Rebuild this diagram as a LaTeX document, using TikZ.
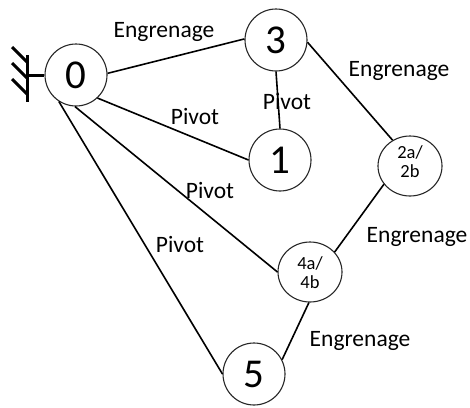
\documentclass[tikz,border=0pt]{standalone}
\usepackage{fontspec}
\setmainfont{Carlito}
\usetikzlibrary{shapes.geometric}
\tikzset{
  joint/.style={draw=black!85, line width=1.1pt, circle, minimum size=62pt, inner sep=0pt, font=\fontsize{41}{41}\selectfont},
  jointsmall/.style={draw=black!85, line width=1.1pt, ellipse, minimum width=64pt, minimum height=60pt, inner sep=0pt},
  smalltxt/.style={font=\fontsize{18.5}{19}\selectfont, align=center, inner sep=0pt},
  lbl/.style={font=\fontsize{23.5}{26}\selectfont, inner sep=0pt},
  link/.style={line width=1.6pt, black},
  groundline/.style={line width=3pt, black}
}
\begin{document}
\begin{tikzpicture}[x=1pt,y=-1pt]
\useasboundingbox (0,0) rectangle (470,407);
% joints
\node[joint] (n0) at (76,75) {0};
\node[joint] (n3) at (276,40) {3};
\node[joint] (n1) at (280,160) {1};
\node[jointsmall] (n2) at (410,166) {};
\node[smalltxt] (n2t) at (410,162) {2a/\\2b};
\node[jointsmall] (n4) at (310,272) {};
\node[smalltxt] (n4t) at (310,273) {4a/\\4b};
\node[joint] (n5) at (254,374) {5};
% ground
\coordinate (g1) at (27,55);
\coordinate (g2) at (27,102);
\coordinate (gm) at (27,75);
\coordinate (h1a) at (12,47); \coordinate (h1b) at (27,62);
\coordinate (h2a) at (12,63); \coordinate (h2b) at (27,78);
\coordinate (h3a) at (12,79); \coordinate (h3b) at (27,94);
\draw[groundline] (g1) -- (g2);
\draw[groundline] (gm) -- (n0.west);
\draw[groundline] (h1a) -- (h1b);
\draw[groundline] (h2a) -- (h2b);
\draw[groundline] (h3a) -- (h3b);
% links
\draw[link] (n0.3) -- (n3.178);
\draw[link] (n0.-47) -- (n1.180);
\draw[link] (n0.-92) -- (n4.180);
\draw[link] (n0.-123) -- (n5.180);
\draw[link] (n3.-90) -- (n1.90);
\draw[link] (n3.-4) -- (n2.124);
\draw[link] (n2.-145) -- (n4.39);
\draw[link] (n4.-92) -- (n5.27);
% labels
\node[lbl] (l03) at (164,32) {Engrenage};
\node[lbl] (l32) at (399,71) {Engrenage};
\node[lbl] (l31) at (287,101) {Pivot};
\node[lbl] (l01) at (195,116) {Pivot};
\node[lbl] (l04) at (210,190) {Pivot};
\node[lbl] (l05) at (180,244) {Pivot};
\node[lbl] (l24) at (417,237) {Engrenage};
\node[lbl] (l45) at (360,341) {Engrenage};
\end{tikzpicture}
\end{document}
